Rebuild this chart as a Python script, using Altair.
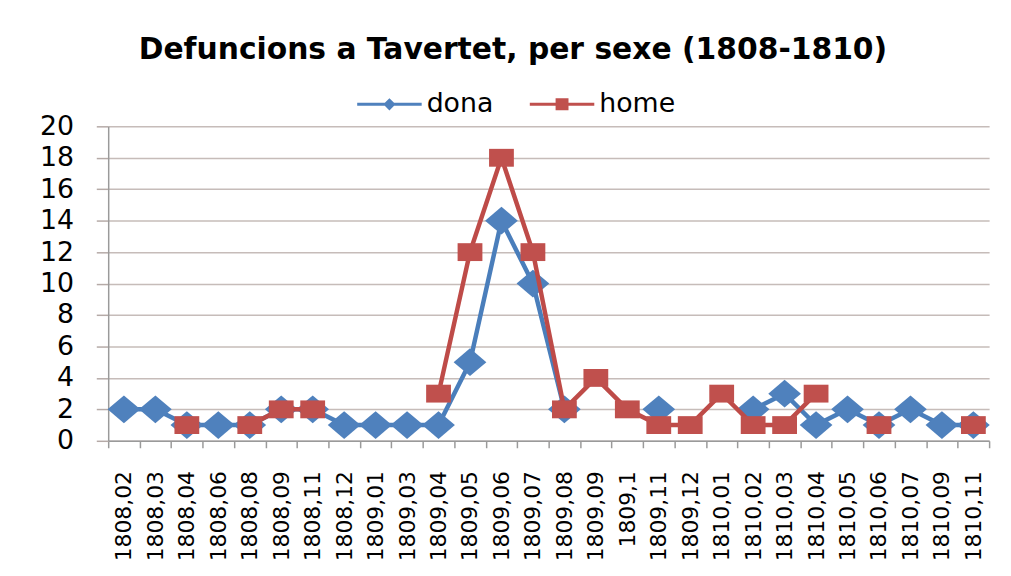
import altair as alt
import pandas as pd

categories = ["1808,02", "1808,03", "1808,04", "1808,06", "1808,08", "1808,09", "1808,11",
              "1808,12", "1809,01", "1809,03", "1809,04", "1809,05", "1809,06", "1809,07",
              "1809,08", "1809,09", "1809,1", "1809,11", "1809,12", "1810,01", "1810,02",
              "1810,03", "1810,04", "1810,05", "1810,06", "1810,07", "1810,09", "1810,11"]
dona = [2, 2, 1, 1, 1, 2, 2, 1, 1, 1, 1, 5, 14, 10, 2, None, None, 2, None, None,
        2, 3, 1, 2, 1, 2, 1, 1]
home = [None, None, 1, None, 1, 2, 2, None, None, None, 3, 12, 18, 12, 2, 4, 2, 1, 1, 3,
        1, 1, 3, None, 1, None, None, 1]
y_ticks = [0, 2, 4, 6, 8, 10, 12, 14, 16, 18, 20]
series_names = ["dona", "home"]
line_colors = ["#4A7EBB", "#BE4B48"]
marker_colors = ["#4F81BD", "#C0504D"]

rows = []
for name, vals in zip(series_names, (dona, home)):
    seg = 0
    prev_null = True
    for i, (c, v) in enumerate(zip(categories, vals)):
        if v is None:
            prev_null = True
            continue
        if prev_null:
            seg += 1
        prev_null = False
        rows.append({"cat": c, "series": name, "value": v, "seg": f"{name}{seg}", "order": i})
df = pd.DataFrame(rows)

x_enc = alt.X("cat:N",
              scale=alt.Scale(type="band", domain=categories, paddingInner=0, paddingOuter=0),
              axis=alt.Axis(title=None, labelAngle=270, tickBand="extent", grid=False,
                            labelFont="DejaVu Sans", labelFontSize=22, labelColor="#000000",
                            labelPadding=23, tickSize=7, labelOverlap=False,
                            domainColor="#9a9a9a", tickColor="#9a9a9a", domainWidth=1.5,
                            tickWidth=1.5))
y_enc = alt.Y("value:Q",
              scale=alt.Scale(domain=[0, 20], nice=False, zero=True),
              axis=alt.Axis(title=None, values=y_ticks, grid=True, gridColor="#c6bcb9",
                            gridWidth=1.6, labelFont="DejaVu Sans", labelFontSize=27,
                            labelColor="#000000", labelPadding=23, tickSize=12,
                            domainColor="#9a9a9a", tickColor="#b5aaa7", domainWidth=1.5,
                            tickWidth=1.5))

legend_paths = [
    "M-1,-0.046H1V0.046H-1Z M0,-0.19L0.19,0L0,0.19L-0.19,0Z",
    "M-1,-0.046H1V0.046H-1Z M-0.2,-0.185H0.2V0.185H-0.2Z",
]
marker_paths = ["M0,-0.85L1,0L0,0.85L-1,0Z", "M-1,-0.72H1V0.72H-1Z"]
marker_sizes = [1089, 625]

legend_layer = alt.Chart(df).mark_point(filled=True, opacity=0).encode(
    x=x_enc, y=y_enc,
    color=alt.Color("series:N", title=None,
                    scale=alt.Scale(domain=series_names, range=marker_colors)),
    shape=alt.Shape("series:N", title=None,
                    scale=alt.Scale(domain=series_names, range=legend_paths)),
)

layers = [legend_layer]
for name, lc, mc, mp, ms in zip(series_names, line_colors, marker_colors, marker_paths, marker_sizes):
    sub = df[df["series"] == name]
    line = alt.Chart(sub).mark_line(strokeWidth=4.5, color=lc).encode(
        x=x_enc, y=y_enc, detail="seg:N", order="order:Q")
    pts = alt.Chart(sub).mark_point(shape=mp, size=ms, filled=True, opacity=1,
                                    color=mc, strokeWidth=0).encode(x=x_enc, y=y_enc)
    layers += [line, pts]

chart = alt.layer(*layers).properties(
    width=888, height=317,
    autosize=alt.AutoSizeParams(type="none"),
    padding={"left": 101, "top": 117, "right": 14, "bottom": 134},
    background="#ffffff",
    title=alt.TitleParams("Defuncions a Tavertet, per sexe (1808-1810)", font="DejaVu Sans",
                          fontWeight="bold", fontSize=30, color="#000000", anchor="middle",
                          dx=-36, dy=-3),
).configure_view(stroke=None).configure_legend(
    orient="none", legendX=251, legendY=-55, direction="horizontal",
    symbolSize=4225, symbolStrokeWidth=0, symbolOpacity=1,
    labelFont="DejaVu Sans", labelFontSize=27, labelColor="#000000",
    labelOffset=5, columnPadding=36, padding=0,
)

chart.save("out.html", embed_options={"renderer": "svg", "actions": False})
